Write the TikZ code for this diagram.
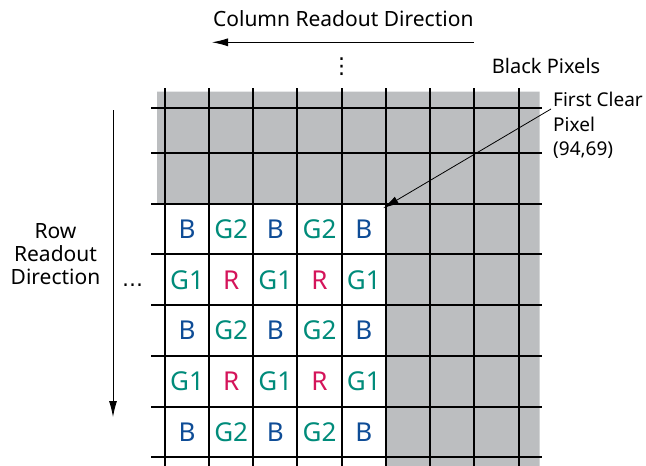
\documentclass[tikz,border=0pt]{standalone}
\usepackage{fontspec}
\setmainfont{Noto Sans}
\newfontfamily\symfont{DejaVu Sans}
\usetikzlibrary{arrows.meta}
\definecolor{pixgray}{HTML}{BCBEC0}
\definecolor{pixblue}{HTML}{0E4C96}
\definecolor{pixgreen}{HTML}{008B7A}
\definecolor{pixred}{HTML}{D4145A}

\begin{document}
\begin{tikzpicture}
  [
    x=1pt,y=-1pt,
    inner sep=0pt,
    gridline/.style={line width=1.8pt,black},
    caption/.style={font=\fontsize{21}{23.3}\selectfont},
    note/.style={font=\fontsize{19}{24.5}\selectfont},
    pixel/.style={font=\fontsize{26}{26}\selectfont},
    readout/.style={line width=0.9pt,-{Latex[length=16pt,width=8pt]}},
  ]
  \useasboundingbox (0,0) rectangle (646,466);
  % black pixels
  \fill[pixgray] (157,91.7) rectangle (539.5,204) (386,204) rectangle (539.5,466);
  % pixel grid
  \foreach \gx in {165,209,253.3,297.3,341.7,386,430,474.3,519.3}
    \draw[gridline] (\gx,88) -- (\gx,466);
  \foreach \gy in {108.3,153.3,204,254.3,305.3,356,406.7,457.3}
    \draw[gridline] (151,\gy) -- (541.7,\gy);
  % clear pixels
  \foreach \cy [count=\r] in {229,330.7,432}
    \foreach \cx/\txt/\clr [count=\c] in {187/B/pixblue,231.2/G2/pixgreen,275.3/B/pixblue,319.5/G2/pixgreen,363.8/B/pixblue}
      \node (bg-\r-\c) at (\cx,\cy) [pixel,text=\clr] {\txt};
  \foreach \cy [count=\r] in {279.8,381.3}
    \foreach \cx/\txt/\clr [count=\c] in {187/G1/pixgreen,231.2/R/pixred,275.3/G1/pixgreen,319.5/R/pixred,363.8/G1/pixgreen}
      \node (gr-\r-\c) at (\cx,\cy) [pixel,text=\clr] {\txt};
  % labels
  \node (colhead) at (343.3,26.7) [caption,anchor=base] {Column Readout Direction};
  \node (rowhead) at (55.5,223) [caption,anchor=north,align=center] {Row\\Readout\\Direction};
  \node (black) at (491.7,73.3) [caption,font=\fontsize{20}{24}\selectfont,anchor=base west] {Black Pixels};
  \node (fcp) at (553,92) [note,anchor=north west,align=left] {First Clear\\Pixel\\(94,69)};
  \node (vdots) at (341.7,66.5) [font=\symfont\fontsize{22}{22}\selectfont] {⋮};
  \node (hdots) at (132.5,286.7) [font=\symfont\fontsize{21}{21}\selectfont,anchor=base] {…};
  % readout arrows
  \coordinate (colstart) at (473.5,42.3);
  \coordinate (colend) at (212,42.3);
  \coordinate (rowstart) at (113,110);
  \coordinate (rowend) at (113,417);
  \coordinate (fcpstart) at (551,109);
  \coordinate (fcpend) at (383,208.3);
  \draw[readout] (colstart) -- (colend);
  \draw[readout] (rowstart) -- (rowend);
  \draw[readout,line width=0.8pt] (fcpstart) -- (fcpend);
\end{tikzpicture}
\end{document}
